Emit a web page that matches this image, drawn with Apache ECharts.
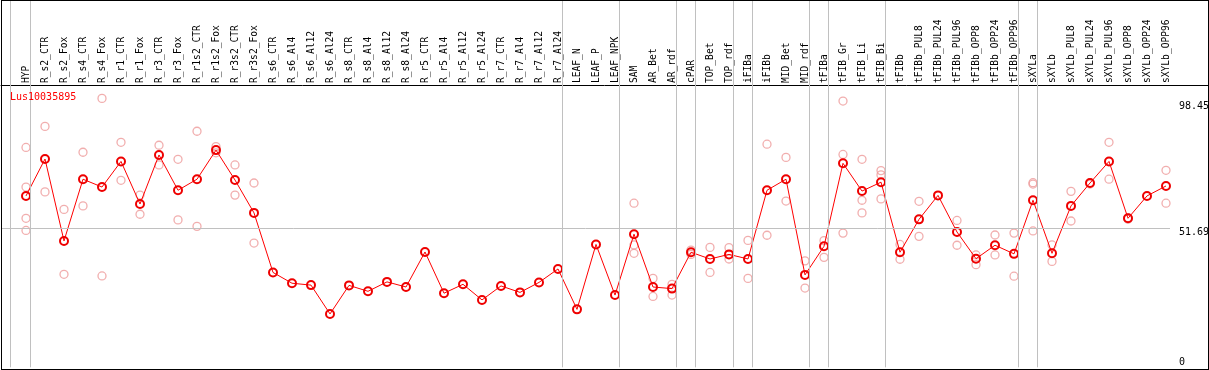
<!DOCTYPE html>
<html><head><meta charset="utf-8">
<script src="https://cdn.jsdelivr.net/npm/echarts@6/dist/echarts.min.js"></script>
<style>
html,body{margin:0;padding:0;background:#fff}
#wrap{position:relative;width:1209px;height:370px}
#c{width:1209px;height:370px}
#f{position:absolute;left:1px;top:0;width:1208px;height:370px;box-sizing:border-box;border:1px solid #000;pointer-events:none}
</style>
</head><body>
<div id="wrap"><div id="c"></div><div id="f"></div></div>
<script>
const geneName = 'Lus10035895';
const categories = ['HYP','R_s2_CTR','R_s2_Fox','R_s4_CTR','R_s4_Fox','R_r1_CTR','R_r1_Fox','R_r3_CTR','R_r3_Fox','R_r1s2_CTR','R_r1s2_Fox','R_r3s2_CTR','R_r3s2_Fox','R_s6_CTR','R_s6_Al4','R_s6_Al12','R_s6_Al24','R_s8_CTR','R_s8_Al4','R_s8_Al12','R_s8_Al24','R_r5_CTR','R_r5_Al4','R_r5_Al12','R_r5_Al24','R_r7_CTR','R_r7_Al4','R_r7_Al12','R_r7_Al24','LEAF_N','LEAF_P','LEAF_NPK','SAM','AR_Bet','AR_rdf','cPAR','TOP_Bet','TOP_rdf','iFIBa','iFIBb','MID_Bet','MID_rdf','tFIBa','tFIB_Gr','tFIB_Li','tFIB_Bi','tFIBb','tFIBb_PUL8','tFIBb_PUL24','tFIBb_PUL96','tFIBb_OPP8','tFIBb_OPP24','tFIBb_OPP96','sXYLa','sXYLb','sXYLb_PUL8','sXYLb_PUL24','sXYLb_PUL96','sXYLb_OPP8','sXYLb_OPP24','sXYLb_OPP96'];
const means = [63.6,77.3,46.9,69.8,66.9,76.4,60.6,78.8,65.7,69.8,80.6,69.5,57.3,35.2,31.2,30.5,19.8,30.4,28.2,31.7,29.8,42.8,27.5,30.8,25.0,30.2,27.8,31.5,36.5,21.5,45.6,26.8,49.4,29.8,29.2,42.7,40.2,41.9,40.2,65.7,69.8,34.3,44.9,75.7,65.4,68.7,42.7,54.9,63.8,50.2,40.3,45.3,42.1,62.0,42.3,59.9,68.4,76.4,55.3,63.6,67.3];
const replicates = [
  [81.6,66.9,55.3,50.8],[89.4,65.1],[58.6,34.5],[79.8,59.9],[99.8,33.9],[83.5,69.4],[63.9,56.8],[82.4,75.1],[77.2,54.7],[87.6,52.3],
  [81.9,79.6],[75.1,63.9],[68.4,46.1],[],[],[],[],[],[],[],
  [],[],[],[],[],[],[],[],[],[],
  [],[],[60.9,45.4,42.3],[33.0,26.3],[30.8,26.8],[43.5,41.9],[44.5,35.2],[44.4,40.2],[47.1,33.0],[82.8,49.0],
  [77.9,61.7],[39.5,29.4],[47.0,40.8],[98.8,79.0,49.8],[77.2,62.0,57.3],[73.0,71.4,62.5],[45.6,40.1],[61.6,48.6],[],[54.5,45.3],
  [41.7,38.1],[49.1,41.7],[49.8,33.8],[68.5,68.0,50.6],[45.4,39.3],[65.3,54.3],[68.5,68.0],[83.5,69.8],[55.5,55.0],[],
  [73.1,60.9]
];
const yTickLabels = [0, 51.69, 98.45];
const yGridLines = [51.69];
const groupEndsAfter = [0, 28, 31, 34, 35, 37, 38, 41, 42, 45, 52, 53, 60];

const FONT = 'DejaVu Sans Mono';
const xMin = -25/19, xMaxPlot = 1144/19, xMaxHead = 1182/19;
const sepOffset = 0.226;

const chart = echarts.init(document.getElementById('c'), null, {renderer:'canvas'});

const repData = [];
replicates.forEach((arr, i) => arr.forEach(v => repData.push([i, v])));
const meanData = means.map((v, i) => [i, v]);

const sepLines = [{xAxis: -0.84}].concat(groupEndsAfter.map(k => ({xAxis: k + sepOffset})));
const yLines = yTickLabels.map(v => ({
  yAxis: v,
  lineStyle: yGridLines.includes(v) ? {color:'#c0c0c0', width:1, type:'solid'} : {color:'rgba(255,255,255,0)', width:1},
  label: {show:true, position:'end', distance:9, color:'#000',
          fontFamily: FONT, fontSize: 10, lineHeight: v === 0 ? 10 : 9, align:'left',
          formatter: v === 0 ? String(v) + '\n' : '\n' + String(v)}
}));

chart.setOption({
  animation: false,
  backgroundColor: '#fff',
  title: {text: geneName, left: 10, top: 92, padding: 0,
    textStyle: {color:'#ff0000', fontSize: 10, fontWeight:'normal', fontFamily: FONT}},
  grid: [
    {left: 1, right: 39, top: 0, height: 367.3},
    {left: 1, right: 1, top: 0, height: 85}
  ],
  xAxis: [
    {type:'value', gridIndex:0, min:xMin, max:xMaxPlot, show:false},
    {type:'value', gridIndex:1, min:xMin, max:xMaxHead, position:'bottom',
      axisLine:{show:true, lineStyle:{color:'#000', width:1}},
      axisTick:{show:false}, splitLine:{show:false},
      axisLabel:{show:true, inside:true, rotate:90, margin:2, color:'#000', fontFamily:FONT, fontSize:9.6,
        customValues: categories.map((_, i) => i),
        formatter: v => categories[Math.round(v)] || ''}}
  ],
  yAxis: [
    {type:'value', gridIndex:0, min:0, max:367.3/2.6946, show:false},
    {type:'value', gridIndex:1, min:0, max:1, show:false}
  ],
  series: [
    {type:'line', xAxisIndex:0, yAxisIndex:0, data:[], silent:true, z:1,
      markLine:{silent:true, symbol:'none', animation:false,
        lineStyle:{color:'#c0c0c0', width:1, type:'solid'},
        label:{show:false},
        data: sepLines.concat(yLines)}},
    {type:'scatter', xAxisIndex:0, yAxisIndex:0, data: repData, symbol:'circle', symbolSize:8, z:2,
      itemStyle:{color:'rgba(0,0,0,0)', borderColor:'#ee9a9a', borderWidth:1.3}},
    {type:'line', xAxisIndex:0, yAxisIndex:0, data: meanData, symbol:'circle', symbolSize:8, z:3,
      lineStyle:{color:'#ff0000', width:1},
      itemStyle:{color:'rgba(0,0,0,0)', borderColor:'#ee0000', borderWidth:2}},
    {type:'line', xAxisIndex:1, yAxisIndex:1, data:[], silent:true}
  ]
});
</script>
</body></html>
